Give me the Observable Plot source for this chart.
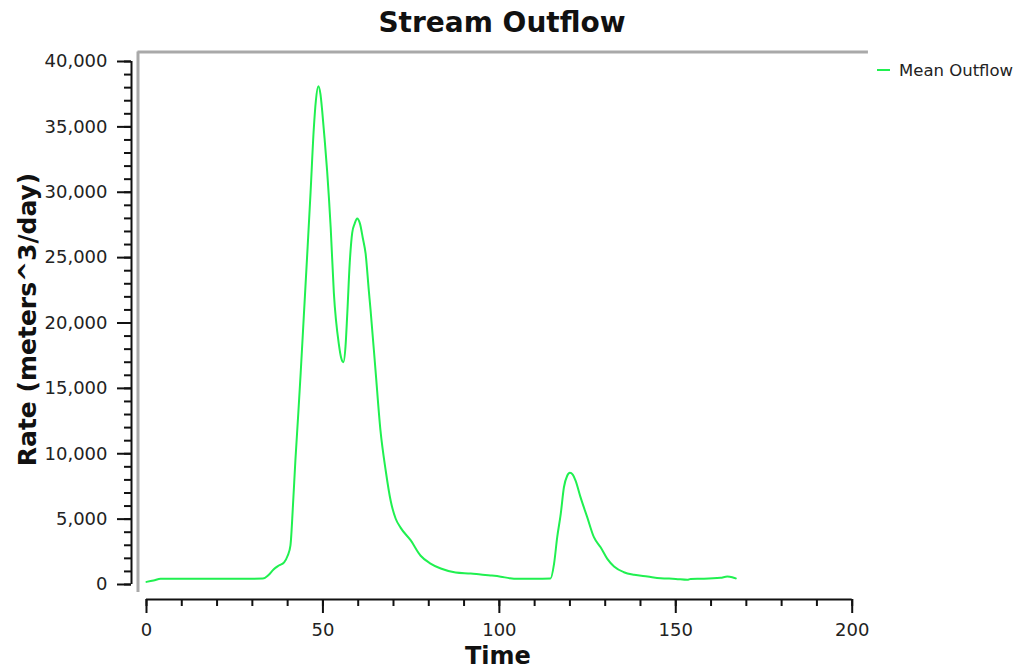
<!DOCTYPE html>
<html><head><meta charset="utf-8">
<script src="https://cdn.jsdelivr.net/npm/d3@7"></script>
<script src="https://cdn.jsdelivr.net/npm/@observablehq/plot@0.6"></script>
<style>
body{margin:0;background:#fff;font-family:"DejaVu Sans",sans-serif;}
#wrap{position:relative;width:1015px;height:672px;overflow:hidden;}
#title{height:42px;padding-top:2px;width:1004px;padding-right:11px;box-sizing:content-box;text-align:center;font-weight:bold;font-size:28px;line-height:42px;color:#111;}
#legend{position:absolute;left:877px;top:60px;height:20px;display:flex;align-items:center;font-size:16.5px;color:#222;}
#legend .sw{display:inline-block;width:13px;height:2px;background:#20f050;margin-right:9px;}
</style></head><body>
<div id="wrap">
  <div id="title">Stream Outflow</div>
  <div id="chart"></div>
  <div id="legend"><span class="sw"></span><span>Mean Outflow</span></div>
</div>
<script>
// Data
const time = [0, 2, 4, 10, 20, 30, 33, 34.5, 36, 37.5, 39, 40, 40.8, 41.5, 42.2, 43, 43.7, 44.6, 45.5, 46.5, 47.4, 48, 48.7, 49.3, 49.8, 50.5, 51.2, 52.2, 53.1, 54.5, 55.2, 55.8, 56.4, 56.9, 57.6, 58.3, 59, 59.7, 60.5, 61.3, 62.1, 63, 63.5, 64.9, 66.3, 67.8, 69.2, 70.6, 72, 74.9, 77.7, 80.5, 83.4, 87.6, 91.9, 94.7, 97.5, 100.4, 103, 105, 110, 114.5, 115.5, 116.4, 117.4, 118.3, 119.2, 120, 120.8, 121.6, 123, 124.9, 126.8, 128.7, 130.6, 132.5, 135.3, 138.2, 142, 145.7, 150, 153.3, 154.2, 158, 162.7, 164.6, 166, 167];
const meanOutflow = [200, 300, 440, 440, 440, 440, 450, 700, 1150, 1450, 1700, 2200, 3000, 6000, 9500, 13000, 16200, 20600, 25000, 30000, 34800, 37000, 38100, 37500, 36200, 34000, 31600, 27300, 22300, 18400, 17300, 17000, 18200, 20700, 24600, 26900, 27600, 28000, 27600, 26500, 25300, 22500, 21000, 16400, 11800, 8700, 6400, 5050, 4350, 3370, 2200, 1600, 1220, 920, 840, 760, 690, 600, 480, 440, 440, 460, 1580, 3620, 5400, 7440, 8300, 8540, 8400, 7950, 6680, 5150, 3620, 2850, 1960, 1380, 940, 740, 610, 480, 430, 360, 430, 440, 510, 610, 560, 470];
const yTicks = d3.range(0, 40001, 5000);
const yMinorTicks = d3.range(0, 40001, 1000);
const xTicks = [0, 50, 100, 150, 200];
const xMinorTicks = d3.range(0, 201, 10);

const data = time.map((t, i) => ({t, v: meanOutflow[i]}));

// scale extents (axes sit slightly outside the data origin, like the reference)
const xMin = -4.25, yMin = -1147;
// decorative grey frame, in scale units
const frameX = -2.41, frameRight = 204.6, frameTop = 40727, frameBottom = -612;

const chart = Plot.plot({
  width: 1015, height: 628,
  marginLeft: 131, marginRight: 163.3, marginTop: 17, marginBottom: 73,
  x: {domain: [xMin, 200]},
  y: {domain: [yMin, 40000]},
  style: {fontFamily: "DejaVu Sans", fontSize: "18px", color: "#222", background: "white", overflow: "visible"},
  marks: [
    Plot.ruleX([frameX], {y1: frameBottom, y2: frameTop, stroke: "#a9a9a9", strokeWidth: 3}),
    Plot.ruleY([frameTop], {x1: frameX, x2: frameRight, stroke: "#a9a9a9", strokeWidth: 3}),
    Plot.ruleX([xMin], {y1: 0, y2: 40000, stroke: "#111", strokeWidth: 2}),
    Plot.ruleY([yMin], {x1: 0, x2: 200, stroke: "#111", strokeWidth: 2}),
    Plot.axisY(yMinorTicks, {tickSize: 7, tickFormat: () => "", label: null, stroke: "#111", strokeWidth: 2}),
    Plot.axisY(yTicks, {tickSize: 14, tickPadding: 10, tickFormat: d3.format(","), label: null, stroke: "#111", strokeWidth: 2, fontSize: 18}),
    Plot.axisX(xMinorTicks, {tickSize: 7, tickFormat: () => "", label: null, stroke: "#111", strokeWidth: 2}),
    Plot.axisX(xTicks, {tickSize: 14, tickPadding: 10, label: null, stroke: "#111", strokeWidth: 2, fontSize: 18}),
    Plot.line(data, {x: "t", y: "v", stroke: "#20f050", strokeWidth: 2, curve: "monotone-x"}),
    Plot.text(["Rate (meters^3/day)"], {frameAnchor: "left", textAnchor: "middle", rotate: -90, dx: -104, dy: -11, fontWeight: "bold", fontSize: 25, fill: "#111", lineAnchor: "middle"}),
    Plot.text(["Time"], {frameAnchor: "bottom", dx: 6, dy: 57, fontWeight: "bold", fontSize: 24, fill: "#111", lineAnchor: "middle"})
  ]
});
document.getElementById("chart").appendChild(chart);
</script>
</body></html>
